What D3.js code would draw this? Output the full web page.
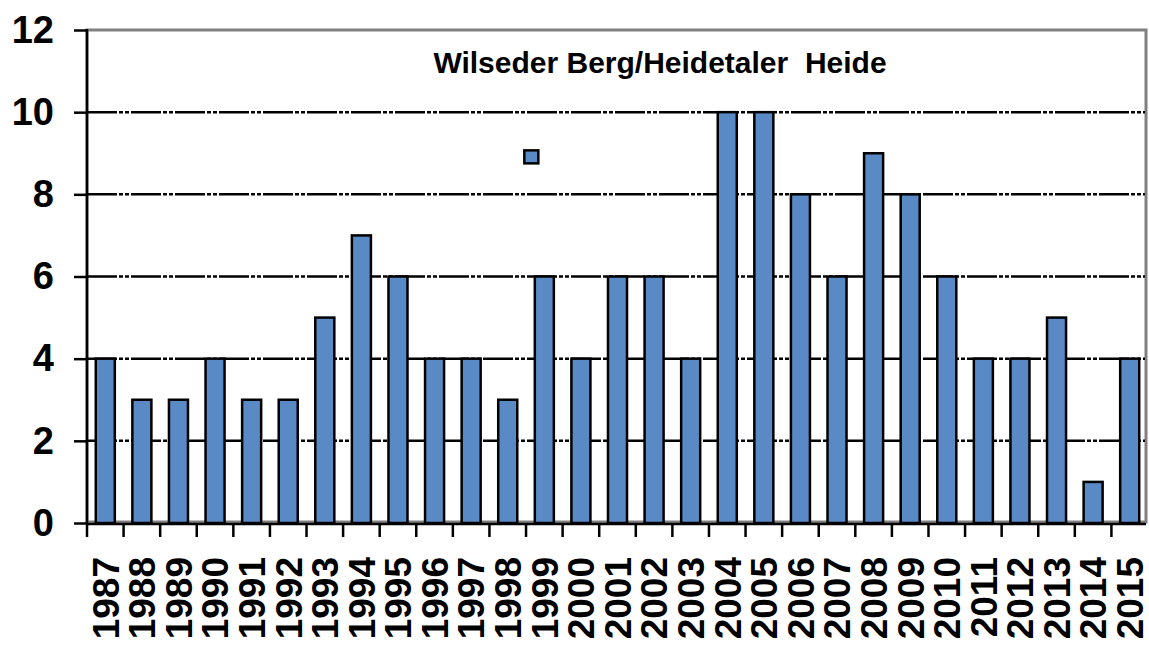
<!DOCTYPE html>
<html>
<head>
<meta charset="utf-8">
<script src="https://cdn.jsdelivr.net/npm/d3@7"></script>
<style>
  body { margin: 0; background: #fff; }
  text { font-family: Arial, "Liberation Sans", sans-serif; font-weight: bold; }
</style>
</head>
<body>
<div id="container"></div>
<script>
/* CONSTANTS AND GLOBALS */
const width = 1149,
  height = 648,
  margin = { top: 30, bottom: 125, left: 87, right: 1 };

/* DATA */
const years = ["1987", "1988", "1989", "1990", "1991", "1992", "1993", "1994", "1995", "1996",
  "1997", "1998", "1999", "2000", "2001", "2002", "2003", "2004", "2005", "2006",
  "2007", "2008", "2009", "2010", "2011", "2012", "2013", "2014", "2015"];
const counts = [4, 3, 3, 4, 3, 3, 5, 7, 6, 4,
  4, 3, 6, 4, 6, 6, 4, 10, 10, 8,
  6, 9, 8, 6, 4, 4, 5, 1, 4];
const yTicks = [0, 2, 4, 6, 8, 10, 12];
const gridValues = [2, 4, 6, 8, 10];
const title = "Wilseder Berg/Heidetaler  Heide";
// stray point marker near 1999
const markerYear = "1999";
const markerValue = 8.9;

const data = years.map((y, i) => ({ year: y, value: counts[i] }));

const blue = "#5a8ac6";

/* SCALES */
const xScale = d3.scaleBand()
  .domain(years)
  .range([margin.left, width - margin.right])
  .paddingInner(0.48)
  .paddingOuter(0.24);

const yScale = d3.scaleLinear()
  .domain([0, 12])
  .range([height - margin.bottom, margin.top]);

const svg = d3.select("#container")
  .append("svg")
  .attr("width", width)
  .attr("height", height);

const x0 = margin.left, x1 = width - margin.right - 2;
const yTop = yScale(12), yBot = yScale(0);

// plot area border (gray)
svg.append("rect")
  .attr("x", x0)
  .attr("y", yTop)
  .attr("width", x1 - x0)
  .attr("height", yBot - yTop - 1)
  .attr("fill", "none")
  .attr("stroke", "#808080")
  .attr("stroke-width", 3);

// gridlines
svg.append("g")
  .selectAll("line")
  .data(gridValues)
  .join("line")
  .attr("x1", x0)
  .attr("x2", x1 - 1)
  .attr("y1", d => yScale(d))
  .attr("y2", d => yScale(d))
  .attr("stroke", "#000")
  .attr("stroke-width", 2.5)
  .attr("stroke-dasharray", "30,2,4,2,4,2");

// title
svg.append("text")
  .attr("x", 660)
  .attr("y", 73)
  .attr("text-anchor", "middle")
  .attr("font-size", 30)
  .style("white-space", "pre")
  .text(title);

// bars
svg.append("g")
  .selectAll("rect")
  .data(data)
  .join("rect")
  .attr("x", d => xScale(d.year))
  .attr("y", d => yScale(d.value))
  .attr("width", xScale.bandwidth())
  .attr("height", d => yScale(0) - yScale(d.value))
  .attr("fill", blue)
  .attr("stroke", "#000")
  .attr("stroke-width", 2.5);

// marker
svg.append("rect")
  .attr("x", xScale(markerYear) + xScale.bandwidth() / 2 - 13 - 7)
  .attr("y", yScale(markerValue) - 7)
  .attr("width", 14)
  .attr("height", 13)
  .attr("fill", blue)
  .attr("stroke", "#000")
  .attr("stroke-width", 2.5);

// y axis
const yAxis = d3.axisLeft(yScale)
  .tickValues(yTicks)
  .tickSize(13)
  .tickPadding(20);

const yG = svg.append("g")
  .attr("transform", `translate(${x0},0)`)
  .call(yAxis);
yG.select(".domain").remove();
yG.selectAll(".tick line").attr("stroke", "#000").attr("stroke-width", 2.5);
yG.selectAll(".tick text")
  .attr("font-size", 38)
  .attr("font-family", "Arial, 'Liberation Sans', sans-serif")
  .attr("font-weight", "bold")
  .attr("fill", "#000");

svg.append("line")
  .attr("x1", x0).attr("x2", x0)
  .attr("y1", yTop - 1).attr("y2", yBot + 1)
  .attr("stroke", "#000")
  .attr("stroke-width", 2.5);

// x axis
svg.append("line")
  .attr("x1", x0).attr("x2", x1)
  .attr("y1", yBot + 1).attr("y2", yBot + 1)
  .attr("stroke", "#000")
  .attr("stroke-width", 2.5);

const boundaries = years.map(y => xScale(y) + xScale.bandwidth() / 2 - xScale.step() / 2);
svg.append("g")
  .selectAll("line")
  .data(boundaries)
  .join("line")
  .attr("x1", d => d)
  .attr("x2", d => d)
  .attr("y1", yBot)
  .attr("y2", yBot + 14)
  .attr("stroke", "#000")
  .attr("stroke-width", 2.5);

svg.append("g")
  .selectAll("text")
  .data(years)
  .join("text")
  .attr("transform", d => `translate(${xScale(d) + xScale.bandwidth() / 2},557) rotate(-90)`)
  .attr("text-anchor", "end")
  .attr("dy", "0.36em")
  .attr("font-size", 37)
  .text(d => d);
</script>
</body>
</html>
